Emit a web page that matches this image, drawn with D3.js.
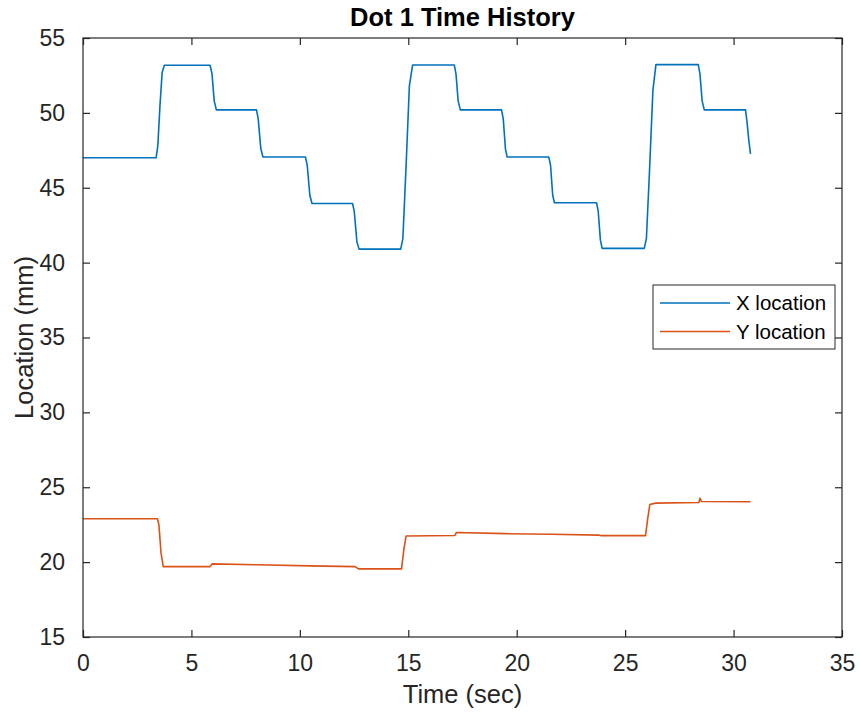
<!DOCTYPE html>
<html>
<head>
<meta charset="utf-8">
<script src="https://cdn.jsdelivr.net/npm/d3@7"></script>
<style>
  body { margin: 0; background: #fff; }
  svg { display: block; font-family: "Liberation Sans", Arial, sans-serif; }
</style>
</head>
<body>
<svg id="chart" width="860" height="715"></svg>
<script>
// values
const xTime = [0, 3.37, 3.45, 3.55, 3.65, 3.75, 5.86, 5.95, 6.05, 6.15,
  8.0, 8.08, 8.2, 8.3, 10.26, 10.34, 10.46, 10.56, 12.43, 12.51, 12.63, 12.73,
  14.65, 14.75, 14.9, 15.05, 15.2, 17.12, 17.2, 17.3, 17.4,
  19.3, 19.38, 19.48, 19.56, 21.48, 21.56, 21.66, 21.74, 23.68, 23.76, 23.86, 23.94,
  25.88, 25.98, 26.12, 26.28, 26.42, 28.37, 28.45, 28.55, 28.65, 30.55, 30.62, 30.7, 30.78];
const xLoc = [47.0, 47.0, 47.8, 50.5, 52.7, 53.18, 53.18, 52.6, 50.8, 50.2,
  50.2, 49.6, 47.6, 47.05, 47.05, 46.5, 44.5, 43.95, 43.95, 43.4, 41.4, 40.9,
  40.9, 41.6, 46.5, 51.8, 53.2, 53.2, 52.6, 50.8, 50.2,
  50.2, 49.6, 47.6, 47.05, 47.05, 46.5, 44.5, 44.0, 44.0, 43.4, 41.5, 40.95,
  40.95, 41.6, 46.0, 51.5, 53.22, 53.22, 52.6, 50.8, 50.2, 50.2, 49.4, 48.2, 47.26];

const yTime = [0, 3.43, 3.5, 3.6, 3.7, 5.86, 5.95, 8.0, 10.5, 12.55, 12.7,
  14.69, 14.8, 14.9, 17.15, 17.22, 19.5, 21.6, 23.8, 23.9,
  25.94, 26.05, 26.14, 26.4, 28.4, 28.45, 28.52, 30.78];
const yLoc = [22.9, 22.9, 22.5, 20.6, 19.7, 19.7, 19.88, 19.82, 19.75, 19.7, 19.55,
  19.55, 20.9, 21.74, 21.78, 21.98, 21.9, 21.86, 21.8, 21.77,
  21.77, 23.0, 23.85, 23.94, 23.98, 24.27, 24.05, 24.03];

const xTicks = [0, 5, 10, 15, 20, 25, 30, 35];
const yTicks = [15, 20, 25, 30, 35, 40, 45, 50, 55];
const seriesNames = ["X location", "Y location"];
const seriesColors = ["#0072BD", "#D95319"];

const svg = d3.select("#chart");
const margin = {top: 38, right: 18, bottom: 78, left: 83};
const width = 860 - margin.left - margin.right,
      height = 715 - margin.top - margin.bottom;
const axisColor = "#262626";

const x = d3.scaleLinear().domain([0, 35]).range([0, width]);
const y = d3.scaleLinear().domain([15, 55]).range([height, 0]);

const g = svg.append("g").attr("transform", "translate(" + margin.left + "," + margin.top + ")");

const series = [
  d3.zip(xTime, xLoc),
  d3.zip(yTime, yLoc)
];

const line = d3.line()
  .x(d => x(d[0]))
  .y(d => y(d[1]));

g.selectAll(".series")
  .data(series)
  .enter().append("path")
  .attr("class", "series")
  .attr("d", line)
  .attr("fill", "none")
  .attr("stroke", (d, i) => seriesColors[i])
  .attr("stroke-width", 1.6)
  .attr("stroke-linejoin", "round");

// axes, MATLAB style: ticks inside on all four sides
function styleAxis(sel) {
  sel.select(".domain").remove();
  sel.selectAll(".tick line").attr("stroke", axisColor).attr("stroke-width", 1.2);
  sel.selectAll(".tick text").attr("fill", axisColor).attr("font-size", 23);
}

g.append("g")
  .attr("transform", "translate(0," + height + ")")
  .call(d3.axisBottom(x).tickValues(xTicks).tickSize(-7).tickPadding(18))
  .call(styleAxis);
g.append("g")
  .call(d3.axisTop(x).tickValues(xTicks).tickSize(-7).tickFormat(""))
  .call(styleAxis);
g.append("g")
  .call(d3.axisLeft(y).tickValues(yTicks).tickSize(-7).tickPadding(18))
  .call(styleAxis);
g.append("g")
  .attr("transform", "translate(" + width + ",0)")
  .call(d3.axisRight(y).tickValues(yTicks).tickSize(-7).tickFormat(""))
  .call(styleAxis);

g.append("rect")
  .attr("width", width).attr("height", height)
  .attr("fill", "none").attr("stroke", axisColor).attr("stroke-width", 1.2);

// title and labels
svg.append("text")
  .attr("x", margin.left + width / 2).attr("y", 26)
  .attr("text-anchor", "middle")
  .attr("font-size", 25.5).attr("font-weight", "bold").attr("fill", "#000")
  .text("Dot 1 Time History");

svg.append("text")
  .attr("x", margin.left + width / 2).attr("y", 703)
  .attr("text-anchor", "middle")
  .attr("font-size", 25.5).attr("fill", axisColor)
  .text("Time (sec)");

svg.append("text")
  .attr("transform", "translate(33," + (margin.top + height / 2) + ") rotate(-90)")
  .attr("text-anchor", "middle")
  .attr("font-size", 25.5).attr("fill", axisColor)
  .text("Location (mm)");

// legend
const legend = svg.append("g").attr("transform", "translate(653,285)");
legend.append("rect")
  .attr("width", 182).attr("height", 64)
  .attr("fill", "#fff").attr("stroke", axisColor).attr("stroke-width", 1);

const items = legend.selectAll(".item")
  .data(seriesNames)
  .enter().append("g")
  .attr("class", "item")
  .attr("transform", (d, i) => "translate(0," + (18 + i * 28.5) + ")");
items.append("line")
  .attr("x1", 7).attr("x2", 77)
  .attr("stroke", (d, i) => seriesColors[i]).attr("stroke-width", 1.4);
items.append("text")
  .attr("x", 83).attr("dy", "0.35em")
  .attr("font-size", 20.5).attr("fill", "#000")
  .text(d => d);
</script>
</body>
</html>
